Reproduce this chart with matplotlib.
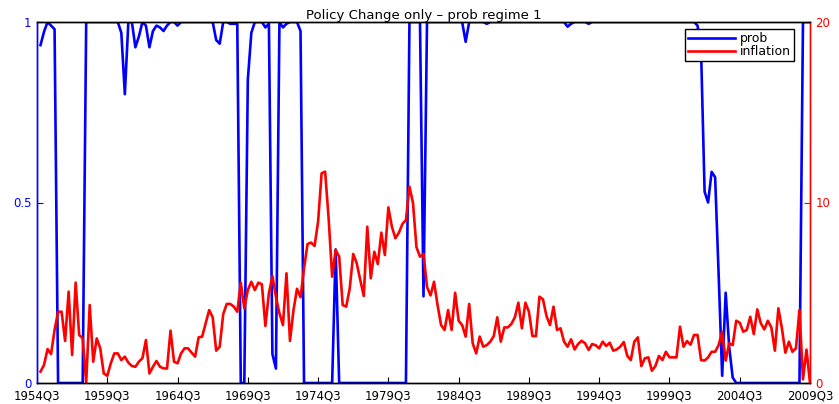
import numpy as np
import matplotlib.pyplot as plt

# quarters after 1954Q3 (1 = 1954Q4 ... 220 = 2009Q3)
trimestres = list(range(1, 221))

etiquetas_x = ["1954Q3", "1959Q3", "1964Q3", "1969Q3", "1974Q3", "1979Q3",
               "1984Q3", "1989Q3", "1994Q3", "1999Q3", "2004Q3", "2009Q3"]

prob = [
    0.936, 0.973, 1.0, 0.99, 0.98,
    0.0, 0.0, 0.0, 0.0, 0.0, 0.0, 0.0, 0.0,
    1.0, 1.0, 1.0, 1.0, 1.0, 1.0, 1.0, 1.0, 1.0, 1.0,
    0.97, 0.80, 1.0, 1.0, 0.93, 0.96, 1.0, 0.99, 0.93, 0.975,
    0.99, 0.985, 0.975, 0.99, 1.0, 1.0, 0.99,
    1.0, 1.0, 1.0, 1.0, 1.0, 1.0, 1.0, 1.0, 1.0, 1.0,
    0.95, 0.94, 1.0, 1.0, 0.995, 0.995, 0.995,
    0.0, 0.0, 0.84, 0.97, 1.0, 1.0, 1.0, 0.985, 0.995,
    0.08, 0.04, 1.0, 0.985, 0.995, 1.0, 1.0, 1.0, 0.975,
    0.0, 0.0, 0.0, 0.0, 0.0, 0.0, 0.0, 0.0, 0.0,
    0.37,
    0.0, 0.0, 0.0, 0.0, 0.0, 0.0, 0.0, 0.0, 0.0, 0.0,
    0.0, 0.0, 0.0, 0.0, 0.0, 0.0, 0.0, 0.0, 0.0, 0.0,
    1.0, 1.0, 1.0, 1.0,
    0.24,
    1.0, 1.0, 1.0, 1.0, 1.0, 1.0, 1.0, 1.0, 1.0, 1.0, 1.0,
    0.945,
    1.0, 1.0, 1.0, 1.0, 1.0, 0.995, 1.0, 1.0, 1.0, 1.0,
    1.0, 1.0, 1.0, 1.0, 1.0, 1.0, 1.0, 1.0, 1.0, 1.0,
    1.0, 1.0, 1.0, 1.0, 1.0, 1.0, 1.0, 1.0,
    0.987, 0.995,
    1.0, 1.0, 1.0, 1.0, 0.995, 1.0, 1.0, 1.0, 1.0, 1.0,
    1.0, 1.0, 1.0, 1.0, 1.0, 1.0, 1.0, 1.0, 1.0, 1.0,
    1.0, 1.0, 1.0, 1.0, 1.0, 1.0, 1.0, 1.0, 1.0, 1.0,
    1.0, 1.0, 1.0, 1.0,
    1.0, 0.99, 0.92, 0.53, 0.50, 0.585, 0.57, 0.30, 0.02, 0.25, 0.10, 0.015,
    0.0, 0.0, 0.0, 0.0, 0.0, 0.0, 0.0, 0.0, 0.0, 0.0,
    0.0, 0.0, 0.0, 0.0, 0.0, 0.0, 0.0, 0.0, 0.0,
    1.0, 1.0, 1.0,
]

inflacion = [
    0.63, 1.0, 1.88, 1.6, 2.94, 3.95, 3.95, 2.33, 5.06, 1.55,
    5.56, 2.66, 2.47, 0.0, 4.32, 1.18, 2.47, 1.92, 0.53, 0.4,
    1.09, 1.64, 1.64, 1.27, 1.46, 1.13, 0.94, 0.9, 1.18, 1.37,
    2.38, 0.53, 0.9, 1.22, 0.9, 0.81, 0.8, 2.9, 1.18, 1.09,
    1.64, 1.92, 1.92, 1.68, 1.46, 2.53, 2.57, 3.31, 4.04, 3.64,
    1.79, 2.01, 3.82, 4.38, 4.38, 4.23, 3.95, 5.56, 4.14, 5.15,
    5.61, 5.15, 5.56, 5.47, 3.16, 4.97, 5.93, 4.78, 3.86, 3.21,
    6.08, 2.33, 4.04, 5.22, 4.75, 6.35, 7.7, 7.78, 7.59, 8.94,
    11.62, 11.71, 9.12, 5.89, 7.37, 7.0, 4.32, 4.23, 5.24, 7.15,
    6.63, 5.71, 4.82, 8.66, 5.8, 7.27, 6.59, 8.33, 7.09, 9.73,
    8.66, 8.02, 8.33, 8.81, 9.03, 10.88, 9.99, 7.52, 7.0, 7.15,
    5.32, 4.85, 5.61, 4.32, 3.21, 2.94, 4.04, 2.94, 5.0, 3.45,
    3.21, 2.57, 4.38, 2.2, 1.64, 2.57, 2.01, 2.1, 2.29, 2.6,
    3.64, 2.29, 3.08, 3.08, 3.27, 3.64, 4.45, 3.03, 4.45, 3.95,
    2.6, 2.6, 4.78, 4.64, 3.71, 3.21, 4.23, 2.94, 3.03, 2.29,
    2.01, 2.42, 1.86, 2.16, 2.34, 2.2, 1.83, 2.16, 2.09, 1.92,
    2.29, 2.05, 2.23, 1.79, 1.86, 2.01, 2.27, 1.5, 1.27, 2.29,
    2.53, 0.94, 1.37, 1.42, 0.68, 0.94, 1.5, 1.27, 1.73, 1.42,
    1.42, 1.42, 3.12, 2.01, 2.32, 2.12, 2.66, 2.66, 1.27, 1.24,
    1.42, 1.73, 1.73, 2.1, 2.84, 1.24, 2.2, 2.1, 3.45, 3.34,
    2.84, 2.94, 3.67, 2.71, 4.08, 3.31, 2.97, 3.45, 3.08, 1.79,
    4.14, 3.03, 1.68, 2.29, 1.73, 1.92, 4.05, 0.2, 1.85, 0.0,
]

plt.rcParams["font.family"] = ["DejaVu Sans"]

fig = plt.figure(figsize=(8.39, 4.04), dpi=100)
ax1 = fig.add_axes([37 / 839, 1 - 383 / 404, 773 / 839, 361 / 404])
ax2 = ax1.twinx()

l1, = ax1.plot(trimestres, prob, color="#0000ff", linewidth=1.9)
l2, = ax2.plot(trimestres, inflacion, color="#ff0000", linewidth=1.9)

ax1.set_xlim(0, 220)
ax1.set_ylim(0, 1)
ax2.set_ylim(0, 20)

ax1.set_xticks(range(0, 221, 20))
ax1.set_xticklabels(etiquetas_x)
ax1.set_yticks([0, 0.5, 1])
ax1.set_yticklabels(["0", "0.5", "1"])
ax2.set_yticks([0, 10, 20])

ax1.tick_params(axis="x", direction="in", length=4, labelsize=8.5, colors="black", pad=5)
ax1.tick_params(axis="y", direction="in", length=4, labelsize=8.5, colors="#0000ff", pad=4)
ax2.tick_params(axis="y", direction="in", length=4, labelsize=8.5, colors="#ff0000", pad=4)

for a in (ax1, ax2):
    a.spines["left"].set_color("#0000ff")
    a.spines["right"].set_color("#ff0000")
    a.spines["top"].set_color("black")
    a.spines["bottom"].set_color("black")
    for s in a.spines.values():
        s.set_linewidth(1.0)

ax1.set_title("Policy Change only – prob regime 1", fontsize=9.5, pad=2)

leg = ax2.legend([l1, l2], ["prob", "inflation"], loc="upper right",
                 bbox_to_anchor=(0.979, 0.981), borderaxespad=0, fontsize=9,
                 fancybox=False, edgecolor="black", framealpha=1,
                 handlelength=3.7, handletextpad=0.4, borderpad=0.25,
                 labelspacing=0.0)
leg.get_frame().set_linewidth(1.0)

fig.savefig("out.png", dpi=100)
